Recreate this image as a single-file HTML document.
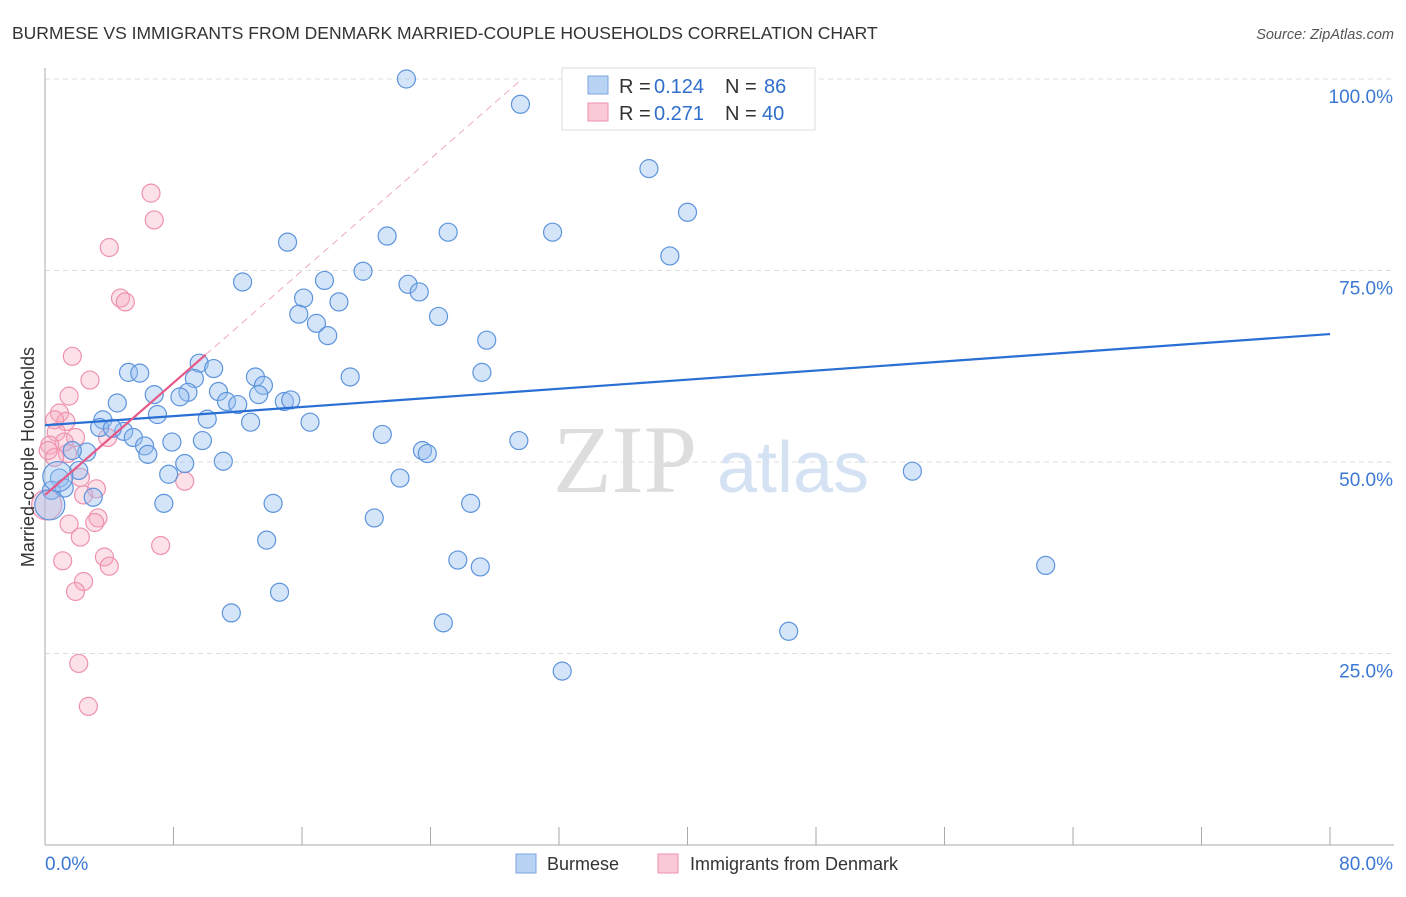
<!DOCTYPE html>
<html><head><meta charset="utf-8"><style>
body{margin:0;background:#fff;font-family:"Liberation Sans",sans-serif}
</style></head><body>
<svg id="chart" width="1406" height="892" xmlns="http://www.w3.org/2000/svg" font-family="Liberation Sans, sans-serif">
<text x="12" y="39" font-size="17.5" fill="#333">BURMESE VS IMMIGRANTS FROM DENMARK MARRIED-COUPLE HOUSEHOLDS CORRELATION CHART</text>
<text x="1394" y="39" font-size="14.5" fill="#555" font-style="italic" text-anchor="end">Source: ZipAtlas.com</text>
<g id="grid"></g>
<g>
<text x="553" y="492" font-size="96" font-family="Liberation Serif, serif" fill="#ddd">ZIP</text>
<text x="717" y="492" font-size="72" fill="#d4e2f4">atlas</text>
</g>
<g id="pts"></g>
<g id="lines"></g>
<text transform="translate(34,457) rotate(-90)" font-size="18" fill="#333" text-anchor="middle">Married-couple Households</text>
<g>
<rect x="562" y="68" width="253" height="62" fill="#fff" stroke="#ddd"/>
<rect x="588" y="76" width="20" height="18" fill="#b9d3f5" stroke="#7aa6e0"/>
<rect x="588" y="103" width="20" height="18" fill="#fbc8d6" stroke="#ee92ad"/>
<text x="619" y="93" font-size="20" fill="#333">R =</text>
<text x="654" y="93" font-size="20" fill="#2f6fcc">0.124</text>
<text x="725" y="93" font-size="20" fill="#333">N =</text>
<text x="764" y="93" font-size="20" fill="#2f6fcc">86</text>
<text x="619" y="120" font-size="20" fill="#333">R =</text>
<text x="654" y="120" font-size="20" fill="#2f6fcc">0.271</text>
<text x="725" y="120" font-size="20" fill="#333">N =</text>
<text x="762" y="120" font-size="20" fill="#2f6fcc">40</text>
</g>
<g>
<rect x="516" y="854" width="20" height="19" fill="#b9d3f5" stroke="#7aa6e0"/>
<text x="547" y="870" font-size="18" fill="#333">Burmese</text>
<rect x="658" y="854" width="20" height="19" fill="#fbc8d6" stroke="#ee92ad"/>
<text x="690" y="870" font-size="18" fill="#333">Immigrants from Denmark</text>
</g>
</svg>
<script>
const yTicks=[100,75,50,25];
const yTickLabels=["100.0%","75.0%","50.0%","25.0%"];
const xTickVals=[0,8,16,24,32,40,48,56,64,72,80];
const xEndLabels=["0.0%","80.0%"];
const blueX=[22.5,29.6,37.6,40.0,15.1,21.3,25.1,31.6,38.9,12.3,19.8,17.4,22.6,23.3,16.1,18.3,15.8,16.9,17.6,24.5,27.5,27.2,5.2,5.9,9.6,10.5,9.3,6.8,8.9,8.4,10.8,13.1,13.6,11.3,12.0,14.9,15.3,13.3,19.0,4.5,3.6,7.0,10.1,12.8,16.5,3.4,4.9,4.2,5.5,6.2,6.4,7.9,9.8,21.0,29.5,23.5,23.8,2.6,1.7,11.1,8.7,7.7,2.1,0.9,0.4,1.2,3.0,7.4,14.2,26.5,22.1,20.5,13.8,25.7,27.1,14.6,11.6,24.8,46.3,32.2,54.0,62.3];
const blueY=[100.0,96.7,88.3,82.6,78.7,79.5,80.0,80.0,76.9,73.5,74.9,73.7,73.2,72.2,71.4,70.9,69.3,68.1,66.5,69.0,65.9,61.7,61.7,61.6,62.9,62.2,60.9,58.8,59.1,58.5,59.2,61.1,60.0,57.9,57.5,57.9,58.1,58.8,61.1,57.7,55.5,56.2,55.6,55.2,55.2,54.5,54.0,54.4,53.2,52.1,51.0,52.6,52.8,53.6,52.8,51.5,51.1,51.3,51.5,50.1,49.8,48.4,48.9,47.9,46.3,46.6,45.4,44.6,44.6,44.6,47.9,42.7,39.8,37.2,36.3,33.0,30.3,29.0,27.9,22.7,48.8,36.5];
const blueBigX=[0.8,0.3];
const blueBigY=[48.1,44.4];
const pinkX=[6.6,6.8,4.0,4.7,5.0,1.7,2.8,1.5,0.9,1.3,0.6,0.7,1.9,3.9,1.2,0.3,1.4,0.6,8.7,2.2,3.2,2.4,3.3,1.5,3.1,2.2,3.7,7.2,4.0,1.1,2.4,1.9,2.1,2.7,0.2];
const pinkY=[85.1,81.6,78.0,71.4,70.9,63.8,60.7,58.6,56.4,55.3,55.5,53.9,53.2,53.2,52.6,52.2,51.1,50.6,47.5,48.0,46.5,45.7,42.7,41.9,42.1,40.2,37.6,39.1,36.4,37.1,34.4,33.1,23.7,18.1,51.5];
const pinkBigX=[0.1];
const pinkBigY=[44.4];
const blueTrend=[[0,54.8],[80,66.7]];
const pinkTrend=[[0,45.7],[10,64.0]];
const pinkDash=[[10,64.0],[29.7,100]];

const NS="http://www.w3.org/2000/svg";
const X0=45,X1=1330,Y0=845,Y100=79;
const sx=v=>X0+(X1-X0)*v/80;
const sy=v=>Y0-(Y0-Y100)*v/100;
function mk(tag,attrs,parent){const e=document.createElementNS(NS,tag);for(const k in attrs)e.setAttribute(k,attrs[k]);parent.appendChild(e);return e;}
const grid=document.getElementById('grid');
yTicks.forEach((t,i)=>{
  const l=mk('line',{x1:X0,x2:1394,y1:sy(t),y2:sy(t),stroke:'#ddd','stroke-dasharray':'5,4'},grid);
  
  
  const tx=mk('text',{x:1393,y:sy(t)+24,'font-size':19,fill:'#3b78d4','text-anchor':'end'},grid);
  tx.textContent=yTickLabels[i];
  
  
});
const ax=mk('line',{x1:X0,x2:X0,y1:68,y2:Y0,stroke:'#aaa'},grid);


const bx=mk('line',{x1:X0,x2:1394,y1:Y0,y2:Y0,stroke:'#aaa'},grid);


xTickVals.forEach(v=>{
  const t=mk('line',{x1:sx(v),x2:sx(v),y1:Y0,y2:Y0-18,stroke:'#aaa'},grid);
  
  
});
const xl0=mk('text',{x:45,y:870,'font-size':19,fill:'#3b78d4'},grid);xl0.textContent=xEndLabels[0];


const xl1=mk('text',{x:1393,y:870,'font-size':19,fill:'#3b78d4','text-anchor':'end'},grid);xl1.textContent=xEndLabels[1];



const pts=document.getElementById('pts');
function dots(xs,ys,r,fill,stroke,name){xs.forEach((x,i)=>{
  const c=mk('circle',{cx:sx(x),cy:sy(ys[i]),r:r,fill:fill,stroke:stroke,'stroke-width':1.2},pts);
  
  
});}
dots(pinkX,pinkY,9,'rgba(247,170,193,0.35)','#ee92ad','denmark-point');
dots(pinkBigX,pinkBigY,15,'rgba(247,170,193,0.35)','#ee92ad','denmark-point');
dots(blueX,blueY,9,'rgba(150,190,240,0.4)','#5d94dc','burmese-point');
dots(blueBigX,blueBigY,15,'rgba(150,190,240,0.4)','#5d94dc','burmese-point');

const lines=document.getElementById('lines');
const bl=mk('line',{x1:sx(blueTrend[0][0]),y1:sy(blueTrend[0][1]),x2:sx(blueTrend[1][0]),y2:sy(blueTrend[1][1]),stroke:'#2a6fd4','stroke-width':2.2},lines);


const pd=mk('line',{x1:sx(pinkDash[0][0]),y1:sy(pinkDash[0][1]),x2:sx(pinkDash[1][0]),y2:sy(pinkDash[1][1]),stroke:'#eeaabf','stroke-width':1,'stroke-dasharray':'7,5'},lines);


const pl=mk('line',{x1:sx(pinkTrend[0][0]),y1:sy(pinkTrend[0][1]),x2:sx(pinkTrend[1][0]),y2:sy(pinkTrend[1][1]),stroke:'#e55a88','stroke-width':2.2},lines);


</script>
</body></html>
